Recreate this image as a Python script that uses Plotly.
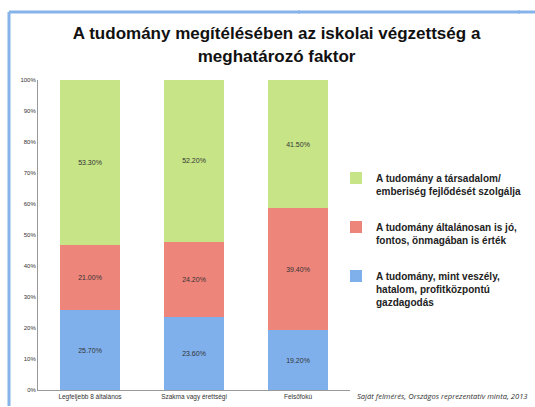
import plotly.graph_objects as go

categories = ["Legfeljebb 8 általános", "Szakma vagy érettségi", "Felsőfokú"]
series_names = [
    "A tudomány, mint veszély,<br>hatalom, profitközpontú<br>gazdagodás",
    "A tudomány általánosan is jó,<br>fontos, önmagában is érték",
    "A tudomány a társadalom/<br>emberiség fejlődését szolgálja",
]
blue_vals = [25.7, 23.6, 19.2]
red_vals = [21.0, 24.2, 39.4]
green_vals = [53.3, 52.2, 41.5]
y_ticks = [0, 10, 20, 30, 40, 50, 60, 70, 80, 90, 100]

colors = ["#7FB0EC", "#EE857B", "#C7E487"]
values = [blue_vals, red_vals, green_vals]
ranks = [3, 2, 1]

W, H = 535, 407


def px_x(p):
    return (p - 38) / 312


def px_y(p):
    return (390 - p) / 310


fig = go.Figure()
for i, (name, vals, col) in enumerate(zip(series_names, values, colors)):
    fig.add_trace(go.Bar(
        x=categories, y=vals, name=name, legendgroup=str(i), legendrank=ranks[i],
        marker=dict(color=col, line=dict(width=0)),
        text=[f"{v:.2f}%" for v in vals], textposition="inside",
        insidetextanchor="middle",
        textfont=dict(size=7, color="#333333", family="Liberation Sans"),
        width=0.58,
    ))

fig.update_layout(
    width=W, height=H,
    margin=dict(l=38, r=185, t=80, b=17, autoexpand=False),
    barmode="stack",
    plot_bgcolor="white", paper_bgcolor="white",
    font=dict(family="Liberation Sans", color="#333333"),
    title=dict(
        text="<b>A tudomány megítélésében az iskolai végzettség a<br>meghatározó faktor</b>",
        x=0.517, xanchor="center", y=0.903, yanchor="top",
        font=dict(size=17, color="#111111", family="Liberation Sans"),
    ),
    showlegend=True,
    legend=dict(
        xref="container", yref="container",
        x=336 / W, xanchor="left", y=1 - 165 / H, yanchor="top",
        traceorder="grouped", tracegroupgap=20, valign="top",
        font=dict(size=10, color="#222222", family="Liberation Sans", weight="bold"),
        bgcolor="rgba(0,0,0,0)",
    ),
    xaxis=dict(
        range=[-0.5, 2.5], showline=True, linecolor="#999999", linewidth=1,
        ticks="", tickfont=dict(size=6.5, color="#333333"), showgrid=False,
    ),
    yaxis=dict(
        range=[0, 100], tickvals=y_ticks, ticktext=[f"{t}%" for t in y_ticks],
        showline=True, linecolor="#999999", linewidth=1, showgrid=False,
        ticks="", tickfont=dict(size=6, color="#333333"), zeroline=False,
    ),
    annotations=[dict(
        text="<i>Saját felmérés, Országos reprezentatív minta, 2013</i>",
        xref="paper", yref="paper", x=px_x(530), y=px_y(396),
        xanchor="right", yanchor="middle", showarrow=False,
        font=dict(size=7.6, color="#333333", family="Open Sans"),
    )],
    shapes=[
        dict(type="line", xref="paper", yref="paper",
             x0=px_x(9), x1=px_x(300), y0=px_y(12), y1=px_y(12),
             line=dict(color="#86B3EA", width=3), layer="above"),
        dict(type="line", xref="paper", yref="paper",
             x0=px_x(298), x1=px_x(520), y0=px_y(12), y1=px_y(12),
             line=dict(color="#86B3EA", width=3), layer="above"),
        dict(type="line", xref="paper", yref="paper",
             x0=px_x(518), x1=px_x(535), y0=px_y(12), y1=px_y(12),
             line=dict(color="#86B3EA", width=3), layer="above"),
        dict(type="line", xref="paper", yref="paper",
             x0=px_x(9), x1=px_x(9), y0=px_y(12), y1=px_y(406),
             line=dict(color="#86B3EA", width=3), layer="above"),
    ],
)
fig.write_html(
    "out.html",
    config={"displayModeBar": False},
    post_script="document.body.style.margin='0';document.body.style.overflow='hidden';",
)
